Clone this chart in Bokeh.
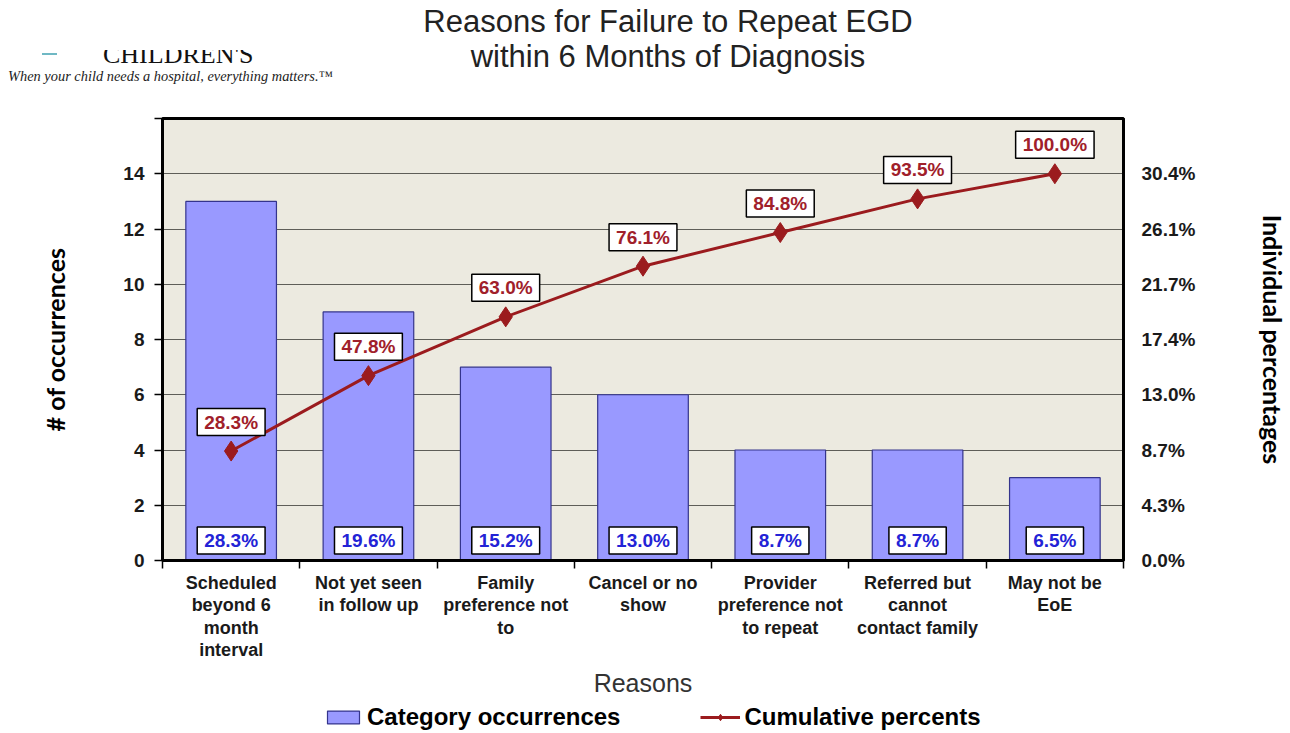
import math
from bokeh.plotting import figure
from bokeh.layouts import column
from bokeh.models import (ColumnDataSource, Range1d, LinearAxis, FixedTicker,
                          Label, Legend, LegendItem, Div)
from bokeh.embed import file_html
from bokeh.resources import INLINE

# ---------------- data ----------------
title_lines = ["Reasons for Failure to Repeat EGD", "within 6 Months of Diagnosis"]
logo_name = "CHILDREN'S"
logo_tagline = "When your child needs a hospital, everything matters.\u2122"
categories = ["Scheduled\nbeyond 6\nmonth\ninterval", "Not yet seen\nin follow up",
              "Family\npreference not\nto", "Cancel or no\nshow",
              "Provider\npreference not\nto repeat", "Referred but\ncannot\ncontact family",
              "May not be\nEoE"]
occurrences = [13, 9, 7, 6, 4, 4, 3]
individual_pct = [28.3, 19.6, 15.2, 13.0, 8.7, 8.7, 6.5]
cumulative_pct = [28.3, 47.8, 63.0, 76.1, 84.8, 93.5, 100.0]
left_ticks = [0, 2, 4, 6, 8, 10, 12, 14, 16]
left_tick_labels = ["0", "2", "4", "6", "8", "10", "12", "14", ""]
right_tick_labels = ["0.0%", "4.3%", "8.7%", "13.0%", "17.4%", "21.7%", "26.1%", "30.4%", ""]
legend_labels = ["Category occurrences", "Cumulative percents"]

xs = [i + 0.5 for i in range(len(categories))]
src = ColumnDataSource(dict(x=xs, occ=occurrences, cum=cumulative_pct))

FONT = "Liberation Sans"
BAR_FILL = "#9999FF"
BAR_LINE = "#34348C"
CUM_COL = "#9B1B1E"
TXT = "#1a1a1a"

W = 1290
HEADER_H = 112

# ---------------- header (title + logo fragment) ----------------
header_html = f"""
<div style="position:relative;width:{W}px;height:{HEADER_H}px;overflow:hidden;background:white;">
  <div style="position:absolute;left:0px;top:4px;width:1336px;text-align:center;
       font-family:'Liberation Sans';font-size:31px;line-height:35px;color:#222222;">
    {title_lines[0]}<br>{title_lines[1]}
  </div>
  <div style="position:absolute;left:42px;top:53px;width:15px;height:2px;background:#6fb8c4;"></div>
  <div style="position:absolute;left:103px;top:50px;width:200px;height:14px;overflow:hidden;">
    <div style="position:absolute;left:0px;top:-8px;font-family:'Liberation Serif';
         font-size:26px;line-height:26px;color:#111111;white-space:nowrap;">{logo_name}</div>
  </div>
  <div style="position:absolute;left:8px;top:68px;font-family:'Liberation Serif';font-style:italic;
       font-size:14.4px;line-height:16px;color:#222222;white-space:nowrap;">{logo_tagline}</div>
</div>
"""
header = Div(text=header_html, width=W, height=HEADER_H, margin=0)

# ---------------- chart ----------------
p = figure(width=W, height=590, output_backend="svg", toolbar_location=None,
           x_range=Range1d(0, len(categories)), y_range=Range1d(0, 16),
           min_border_left=162, min_border_right=157, min_border_top=6,
           min_border_bottom=142, background_fill_color="#ECEAE0",
           border_fill_color="white", margin=0)
p.extra_y_ranges = {"cum": Range1d(0, 100.0 * 16 / 14)}

p.outline_line_color = "black"
p.outline_line_width = 3

bars = p.vbar(x="x", top="occ", bottom=0, width=0.66, source=src,
              fill_color=BAR_FILL, line_color=BAR_LINE, line_width=1.2)
cline = p.line(x="x", y="cum", source=src, y_range_name="cum",
               line_color=CUM_COL, line_width=3)
cpts = p.scatter(x="x", y="cum", source=src, y_range_name="cum", marker="diamond",
                 size=20, fill_color=CUM_COL, line_color=CUM_COL)

# grid
p.xgrid.visible = False
p.ygrid.ticker = FixedTicker(ticks=left_ticks)
p.ygrid.grid_line_color = "#5E5E58"
p.ygrid.grid_line_width = 1

# left axis
ya = p.yaxis[0]
ya.ticker = FixedTicker(ticks=left_ticks)
ya.major_label_overrides = {t: l for t, l in zip(left_ticks, left_tick_labels)}
ya.minor_tick_line_color = None
ya.major_tick_out = 8
ya.major_tick_in = 0
ya.major_tick_line_width = 1.5
ya.axis_line_width = 3
ya.major_label_text_font = FONT
ya.major_label_text_font_style = "bold"
ya.major_label_text_font_size = "19px"
ya.major_label_text_color = TXT
ya.major_label_standoff = 10
ya.axis_label = "# of occurrences"
ya.axis_label_text_font = "Lato"
ya.axis_label_text_font_style = "bold"
ya.axis_label_text_font_size = "25px"
ya.axis_label_text_color = "black"
ya.axis_label_standoff = 50

# right axis (individual percentages tick labels)
ra = LinearAxis(ticker=FixedTicker(ticks=left_ticks))
ra.major_label_overrides = {t: l for t, l in zip(left_ticks, right_tick_labels)}
ra.minor_tick_line_color = None
ra.major_tick_line_color = None
ra.axis_line_width = 3
ra.major_label_text_font = FONT
ra.major_label_text_font_style = "bold"
ra.major_label_text_font_size = "19px"
ra.major_label_text_color = TXT
ra.major_label_standoff = 12
p.add_layout(ra, "right")

# right axis title (separate tick-less axis, centred along the frame)
ta = LinearAxis(ticker=FixedTicker(ticks=[]))
ta.axis_line_color = None
ta.major_tick_line_color = None
ta.minor_tick_line_color = None
ta.major_label_text_font_size = "0px"
ta.axis_label = "Individual percentages"
ta.axis_label_text_font = "Lato"
ta.axis_label_text_font_style = "bold"
ta.axis_label_text_font_size = "25px"
ta.axis_label_text_color = "black"
ta.axis_label_standoff = 59
ta.axis_label_orientation = "parallel"
p.add_layout(ta, "right")

# x axis
xa = p.xaxis[0]
xa.ticker = FixedTicker(ticks=xs, minor_ticks=list(range(len(categories) + 1)))
xa.major_label_overrides = {x: c for x, c in zip(xs, categories)}
xa.major_tick_line_color = None
xa.minor_tick_out = 8
xa.minor_tick_in = 0
xa.minor_tick_line_width = 1.5
xa.minor_tick_line_color = "black"
xa.axis_line_width = 3
xa.major_label_text_font = FONT
xa.major_label_text_font_style = "bold"
xa.major_label_text_font_size = "18px"
xa.major_label_text_color = TXT
xa.major_label_text_line_height = 1.13
xa.major_label_standoff = 4
xa.axis_label = "Reasons"
xa.axis_label_text_font = FONT
xa.axis_label_text_font_style = "normal"
xa.axis_label_text_font_size = "25px"
xa.axis_label_text_color = "#333333"
xa.axis_label_standoff = 6

# data labels (boxed)
for x, ind, cum in zip(xs, individual_pct, cumulative_pct):
    p.add_layout(Label(x=x, y=0, y_offset=20, text="%.1f%%" % ind,
                       text_align="center", text_baseline="middle",
                       text_font=FONT, text_font_style="bold", text_font_size="19px",
                       text_color="#2323D6", background_fill_color="white",
                       border_line_color="black", border_line_width=1.5, padding=(7, 3)))
    p.add_layout(Label(x=x, y=cum, y_range_name="cum", y_offset=29, text="%.1f%%" % cum,
                       text_align="center", text_baseline="middle",
                       text_font=FONT, text_font_style="bold", text_font_size="19px",
                       text_color="#A0202A", background_fill_color="white",
                       border_line_color="black", border_line_width=1.5, padding=(7, 3)))

# ---------------- legend strip ----------------
# the legend's glyphs reuse the chart's source; the strip's ranges keep those marks out of view
lg = figure(width=W, height=30, output_backend="svg", toolbar_location=None,
            x_range=Range1d(100, 101), y_range=Range1d(1000, 1001), min_border=0,
            border_fill_color="white", background_fill_color="white", margin=0)
lg.outline_line_color = None
lg.axis.visible = False
lg.grid.visible = False
lb = lg.vbar(x="x", top="occ", bottom=0, width=0.66, source=src,
             fill_color=BAR_FILL, line_color=BAR_LINE, line_width=1.2)
ll = lg.line(x="x", y="cum", source=src, line_color=CUM_COL, line_width=3)
lm = lg.scatter(x="x", y="cum", source=src, marker="diamond", size=16,
                fill_color=CUM_COL, line_color=CUM_COL)
legend = Legend(items=[LegendItem(label=legend_labels[0], renderers=[lb]),
                       LegendItem(label=legend_labels[1], renderers=[ll, lm])],
                orientation="horizontal", location=(161, 1), border_line_color=None,
                background_fill_alpha=0, label_text_font=FONT,
                label_text_font_style="bold", label_text_font_size="24px",
                label_text_color="black",
                spacing=80, glyph_width=40, glyph_height=16, label_standoff=4,
                padding=0, margin=0)
lg.add_layout(legend)

layout = column(header, p, lg, spacing=0)
open("out.html", "w").write(file_html(layout, INLINE))
